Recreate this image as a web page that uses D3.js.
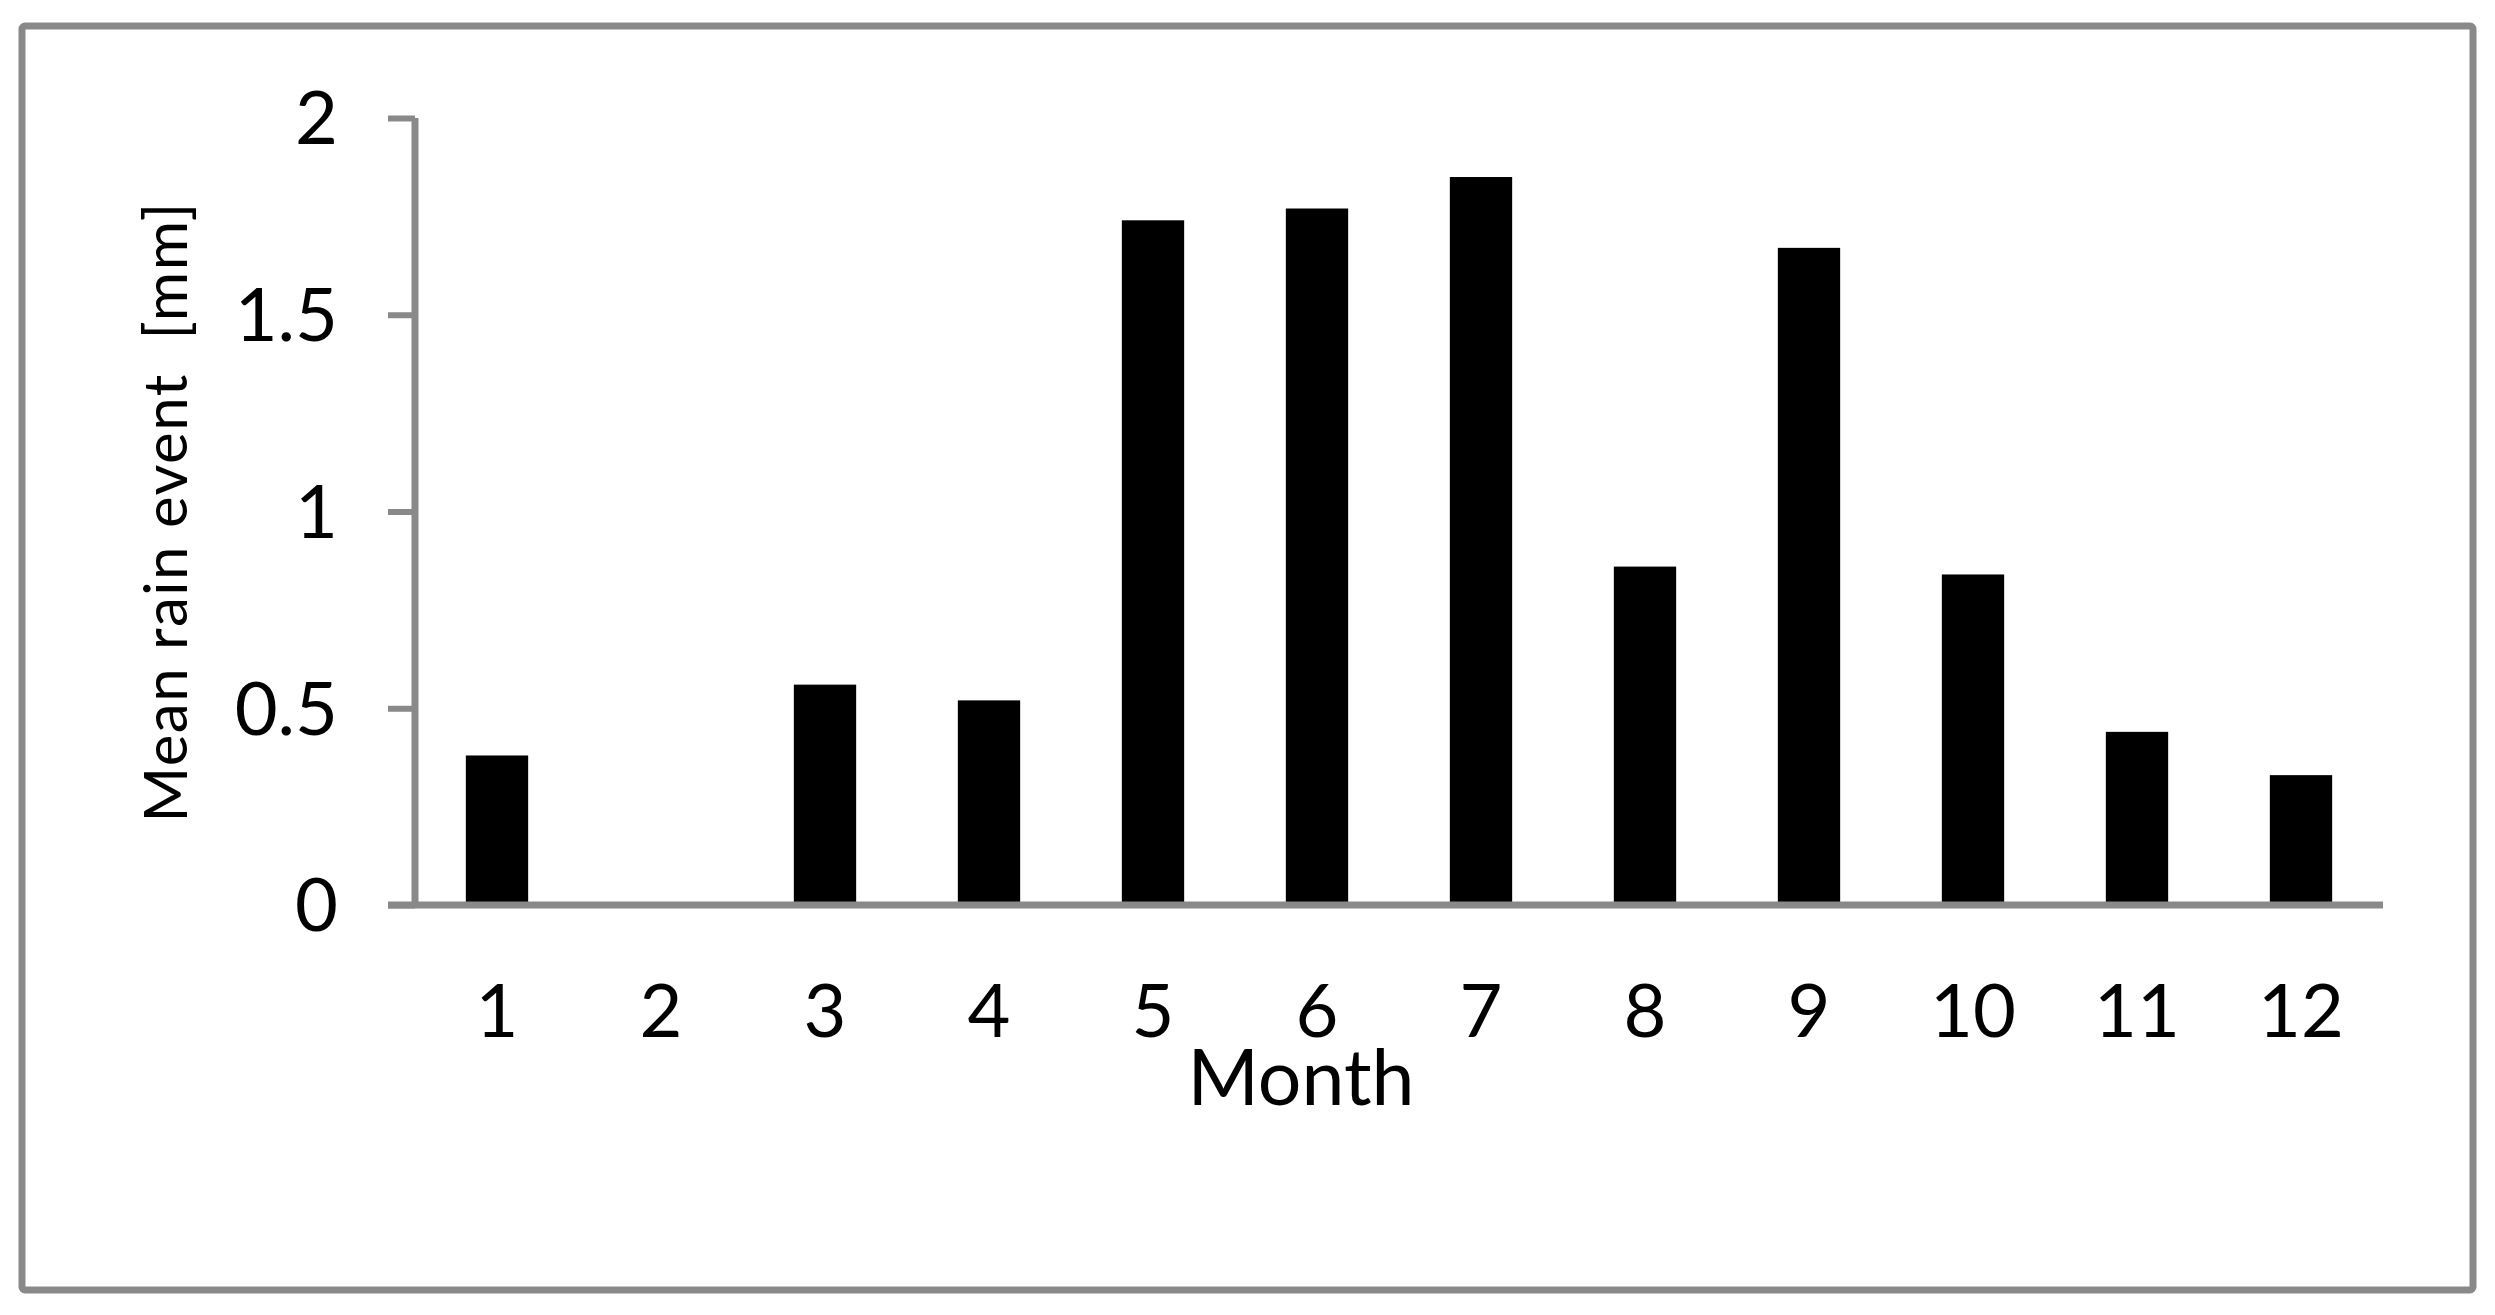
<!DOCTYPE html>
<html>
<head>
<meta charset="utf-8">
<script src="https://cdn.jsdelivr.net/npm/d3@7"></script>
<style>
  html, body { margin: 0; padding: 0; background: #fff; }
  svg { display: block; }
  text { font-family: Lato, "Open Sans", sans-serif; fill: #000; }
</style>
</head>
<body>
<svg id="chart" width="2495" height="1315"></svg>
<script>
const months = ["1","2","3","4","5","6","7","8","9","10","11","12"];
const meanRain = [0.38, 0, 0.56, 0.52, 1.74, 1.77, 1.85, 0.86, 1.67, 0.84, 0.44, 0.33];
const yTicks = [0, 0.5, 1, 1.5, 2];
const yTickLabels = ["0", "0.5", "1", "1.5", "2"];
const xTitle = "Month";
const yTitle = "Mean rain event  [mm]";

const W = 2495, H = 1315;
const grey = "#898989";
const svg = d3.select("#chart");

svg.append("rect").attr("x", 0).attr("y", 0).attr("width", W).attr("height", H).attr("fill", "#fff");
// outer frame
svg.append("rect")
  .attr("x", 22).attr("y", 26).attr("width", 2451).attr("height", 1264)
  .attr("rx", 3)
  .attr("fill", "none").attr("stroke", grey).attr("stroke-width", 7);

const plot = { left: 415, right: 2383, top: 118, bottom: 905 };

const x = d3.scaleBand().domain(months).range([plot.left, plot.right]).paddingInner(0.62).paddingOuter(0.31);
const y = d3.scaleLinear().domain([0, 2]).range([plot.bottom, plot.top]);

// bars
svg.append("g").selectAll("rect").data(months).join("rect")
  .attr("x", d => x(d))
  .attr("width", x.bandwidth())
  .attr("y", (d, i) => y(meanRain[i]))
  .attr("height", (d, i) => y(0) - y(meanRain[i]))
  .attr("fill", "#000");

// y axis
const yAxis = d3.axisLeft(y).tickValues(yTicks).tickSize(27).tickPadding(50)
  .tickFormat((d, i) => yTickLabels[i]);
const gy = svg.append("g").attr("transform", `translate(${plot.left},0)`).call(yAxis);
gy.select(".domain").attr("stroke", grey).attr("stroke-width", 7).attr("d", `M0,${plot.top}V${plot.bottom}`);
gy.selectAll(".tick line").attr("stroke", grey).attr("stroke-width", 6);
gy.selectAll(".tick text")
  .attr("font-size", 74).attr("font-family", "Lato, sans-serif").attr("fill", "#000")
  .attr("dy", "0.35em");

// x axis
const xAxis = d3.axisBottom(x).tickSize(0).tickPadding(0);
const gx = svg.append("g").attr("transform", `translate(0,${plot.bottom})`).call(xAxis);
gx.select(".domain").attr("stroke", grey).attr("stroke-width", 7).attr("d", `M${plot.left - 27},0H${plot.right}`);
gx.selectAll(".tick text")
  .attr("font-size", 74).attr("font-family", "Lato, sans-serif").attr("fill", "#000")
  .attr("y", 132).attr("dy", 0);

// titles
svg.append("text").attr("x", 1301).attr("y", 1105)
  .attr("text-anchor", "middle").attr("font-size", 77).text(xTitle);

svg.append("text")
  .attr("transform", "translate(187,512) rotate(-90)")
  .attr("text-anchor", "middle").attr("font-size", 60)
  .attr("letter-spacing", 1.5)
  .style("white-space", "pre")
  .text(yTitle);
</script>
</body>
</html>
